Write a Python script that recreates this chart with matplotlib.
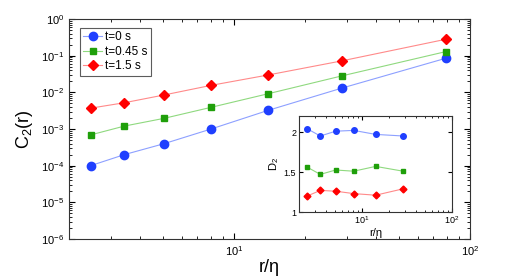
import matplotlib
matplotlib.use("Agg")
import matplotlib.pyplot as plt
from matplotlib.ticker import NullFormatter

plt.rcParams["font.family"] = ["Liberation Sans", "DejaVu Sans"]
plt.rcParams["mathtext.fontset"] = "custom"
plt.rcParams["mathtext.rm"] = "Liberation Sans"
plt.rcParams["mathtext.it"] = "Liberation Sans"

# separation r/eta
r_eta = [2.47, 3.43, 5.07, 8.0, 13.9, 28.6, 79.0]
# second-order structure function C2(r)
c2_t0 = [1.0e-4, 2.0e-4, 4.0e-4, 1.0e-3, 3.2e-3, 1.3e-2, 0.085]
c2_t045 = [6.9e-4, 1.2e-3, 1.96e-3, 3.9e-3, 9.1e-3, 0.028, 0.129]
c2_t15 = [3.7e-3, 5.2e-3, 8.5e-3, 0.0155, 0.0296, 0.072, 0.28]
# local slope D2 (inset)
r_inset = [2.47, 3.45, 5.1, 8.1, 14.2, 28.7]
d2_t0 = [2.04, 1.95, 2.01, 2.02, 1.97, 1.95]
d2_t045 = [1.56, 1.47, 1.525, 1.51, 1.57, 1.51]
d2_t15 = [1.20, 1.27, 1.26, 1.23, 1.21, 1.29]
labels = ["t=0 s", "t=0.45 s", "t=1.5 s"]

styles = [
    dict(marker="o", color="#8da0ff", mfc="#1f3fff", mec="#1f3fff"),
    dict(marker="s", color="#8fd97f", mfc="#1f9f0a", mec="#1f9f0a"),
    dict(marker="D", color="#ff8a8a", mfc="#ff0000", mec="#ff0000"),
]
main_ms = [6, 5, 5]
inset_ms = [4, 3.5, 3.5]

fig = plt.figure(figsize=(5.19, 2.76), dpi=100)
ax = fig.add_axes([69 / 519, 1 - 239 / 276, 401 / 519, 220 / 276])

for ys, lab, st, ms in zip([c2_t0, c2_t045, c2_t15], labels, styles, main_ms):
    ax.plot(r_eta, ys, lw=0.8, ms=ms, label=lab, **st)

ax.set_xscale("log")
ax.set_yscale("log")
ax.set_xlim(2, 100)
ax.set_ylim(1e-6, 1)
ax.xaxis.set_minor_formatter(NullFormatter())
ax.set_xlabel("r/η", fontsize=13, labelpad=1)
ax.set_ylabel("C$_2$(r)", fontsize=13, labelpad=4)
ax.tick_params(which="both", direction="in", top=True, right=True, labelsize=8)
ax.tick_params(which="major", length=4)
ax.tick_params(which="minor", length=2)
for sp in ax.spines.values():
    sp.set_color("#333333")
    sp.set_linewidth(0.8)

leg = ax.legend(loc="upper left", fontsize=8.5, frameon=True, fancybox=False,
                edgecolor="#333333", borderpad=0.3, handlelength=1.6,
                handletextpad=0.2, labelspacing=0.2, borderaxespad=0,
                bbox_to_anchor=(0.027, 0.96))
leg.get_frame().set_linewidth(0.8)

ins = fig.add_axes([299 / 519, 1 - 212 / 276, 153 / 519, 96 / 276])
for ys, st, ms in zip([d2_t0, d2_t045, d2_t15], styles, inset_ms):
    ins.plot(r_inset, ys, lw=0.8, ms=ms, **st)
ins.set_xscale("log")
ins.set_xlim(2, 100)
ins.set_ylim(1, 2.2)
ins.xaxis.set_minor_formatter(NullFormatter())
ins.set_yticks([1, 1.5, 2])
ins.set_yticklabels(["1", "1.5", "2"])
ins.set_xlabel("r/η", fontsize=8, labelpad=1)
ins.set_ylabel("D$_2$", fontsize=8, labelpad=2)
ins.tick_params(which="both", direction="in", top=True, right=True, labelsize=6.5, pad=2)
ins.tick_params(which="major", length=3)
ins.tick_params(which="minor", length=1.5)
for sp in ins.spines.values():
    sp.set_color("#333333")
    sp.set_linewidth(0.8)

fig.savefig("out.png", dpi=100)
